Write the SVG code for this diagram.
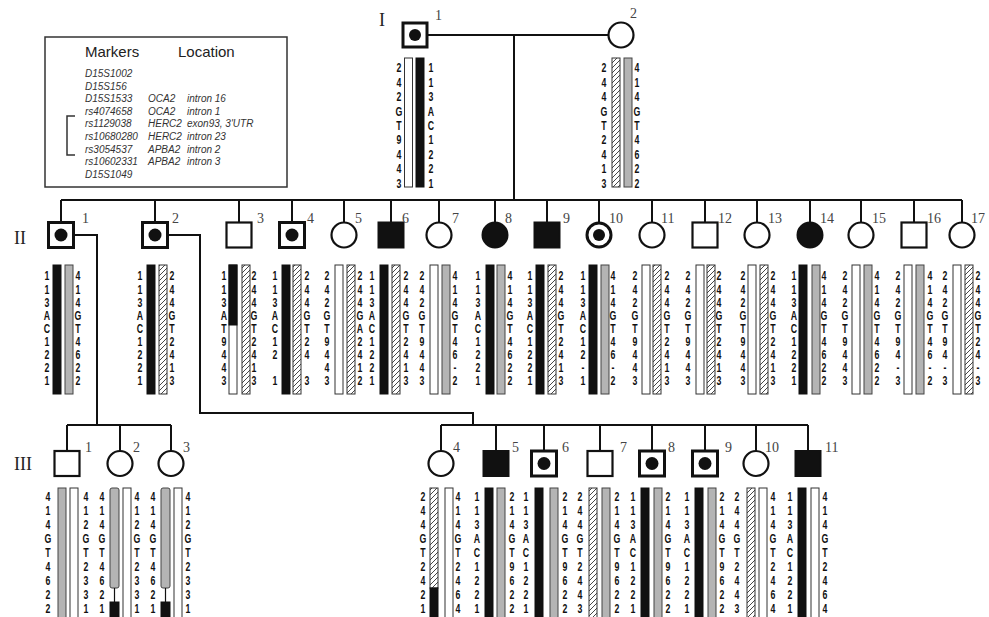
<svg xmlns="http://www.w3.org/2000/svg" width="989" height="617" viewBox="0 0 989 617">
<defs>
<pattern id="hatch" patternUnits="userSpaceOnUse" width="5" height="5">
<rect width="5" height="5" fill="#fff"/>
<path d="M0 5L5 0M-1 1L1 -1M4 6L6 4" stroke="#333" stroke-width="0.9"/>
</pattern>
<style>
.sym{fill:#fff;stroke:#111;stroke-width:2.2}
.symc{fill:#fff;stroke:#111;stroke-width:3}
.fill{fill:#111;stroke:#111;stroke-width:2}
.dot{fill:#111}
.w{fill:#fff;stroke:#333;stroke-width:1}
.b{fill:#111;stroke:#111;stroke-width:1}
.g{fill:#b4b4b4;stroke:#444;stroke-width:1}
.h{fill:url(#hatch);stroke:#333;stroke-width:1}
.n{font-family:"Liberation Sans",Arial,sans-serif;font-weight:bold;font-size:12.5px;text-anchor:middle;fill:#111}
.lb{font-family:"Liberation Serif","Times New Roman",serif;font-size:14px;fill:#444}
.gen{font-family:"Liberation Serif","Times New Roman",serif;font-size:18px;fill:#222}
.lh{font-family:"Liberation Sans",Arial,sans-serif;font-size:15px;fill:#222}
.li{font-family:"Liberation Sans",Arial,sans-serif;font-size:10px;font-style:italic;fill:#333}
.con{fill:none;stroke:#111;stroke-width:2}
</style>
</defs>
<rect width="989" height="617" fill="#fff"/>

<g id="legend">
<rect x="45" y="37" width="242" height="150" fill="#fff" stroke="#333" stroke-width="1.5"/>
<text class="lh" x="85" y="57">Markers</text>
<text class="lh" x="178" y="57">Location</text>
<text class="li" x="85" y="77">D15S1002</text>
<text class="li" x="85" y="89.6">D15S156</text>
<text class="li" x="85" y="102.2">D15S1533</text><text class="li" x="148" y="102.2">OCA2</text><text class="li" x="187" y="102.2">intron 16</text>
<text class="li" x="85" y="114.8">rs4074658</text><text class="li" x="148" y="114.8">OCA2</text><text class="li" x="187" y="114.8">intron 1</text>
<text class="li" x="85" y="127.4">rs1129038</text><text class="li" x="148" y="127.4">HERC2</text><text class="li" x="187" y="127.4">exon93, 3'UTR</text>
<text class="li" x="85" y="140">rs10680280</text><text class="li" x="148" y="140">HERC2</text><text class="li" x="187" y="140">intron 23</text>
<text class="li" x="85" y="152.6">rs3054537</text><text class="li" x="148" y="152.6">APBA2</text><text class="li" x="187" y="152.6">intron 2</text>
<text class="li" x="85" y="165.2">rs10602331</text><text class="li" x="148" y="165.2">APBA2</text><text class="li" x="187" y="165.2">intron 3</text>
<text class="li" x="85" y="177.8">D15S1049</text>
<path d="M75 116H67V155H75" fill="none" stroke="#333" stroke-width="1.5"/>
</g>

<g id="generation-labels">
<text class="gen" x="379" y="26">I</text>
<text class="gen" x="14" y="244">II</text>
<text class="gen" x="14" y="470">III</text>
</g>

<g id="connectors">
<path class="con" d="M427 35H608M514 35V200M61 200H962"/>
<path class="con" d="M61 200V222M155 200V222M239 200V222M292 200V222M344 200V222M391 200V222M439 200V222M495 200V222M547 200V222M599 200V222M652 200V222M705 200V222M757 200V222M810 200V222M861 200V222M914 200V222M962 200V222"/>
<path class="con" d="M74 235H97V425M67 425H171M67 425V451M120 425V451M171 425V451"/>
<path class="con" d="M168 235H200V413H473V425M441 425H808M441 425V451M496 425V451M544 425V451M600 425V451M652 425V451M705 425V451M756 425V451M808 425V451"/>
</g>

<g id="I-1">
<rect class="symc" x="403" y="23" width="24" height="24"/><circle class="dot" cx="415" cy="35" r="6"/>
<text class="lb" x="435" y="20">1</text>
<rect class="w" x="404.5" y="58" width="8" height="129"/><rect class="b" x="416" y="58" width="8" height="129"/>
<text class="n" transform="translate(399 0) scale(.7 1)" x="0 0 0 0 0 0 0 0 0" y="72.5 86.9 101.3 115.7 130.1 144.5 158.9 173.3 187.7">242GT9443</text>
<text class="n" transform="translate(431 0) scale(.7 1)" x="0 0 0 0 0 0 0 0 0" y="72.5 86.9 101.3 115.7 130.1 144.5 158.9 173.3 187.7">113AC1221</text>
</g>
<g id="I-2">
<circle class="sym" cx="621" cy="35" r="12.5"/>
<text class="lb" x="630" y="18">2</text>
<rect class="h" x="612" y="58" width="8" height="129"/><rect class="g" x="624" y="58" width="8" height="129"/>
<text class="n" transform="translate(604 0) scale(.7 1)" x="0 0 0 0 0 0 0 0 0" y="72.5 86.9 101.3 115.7 130.1 144.5 158.9 173.3 187.7">244GT2413</text>
<text class="n" transform="translate(637 0) scale(.7 1)" x="0 0 0 0 0 0 0 0 0" y="72.5 86.9 101.3 115.7 130.1 144.5 158.9 173.3 187.7">414GT4622</text>
</g>

<g id="II-1">
<rect class="symc" x="48.5" y="222.5" width="25" height="25"/><circle class="dot" cx="61" cy="235" r="6.5"/>
<text class="lb" x="82" y="223">1</text>
<rect class="b" x="53" y="265" width="8" height="129"/><rect class="g" x="65" y="265" width="8" height="129"/>
<text class="n" transform="translate(47 0) scale(.7 1)" x="0 0 0 0 0 0 0 0 0" y="280.5 293.6 306.7 319.8 332.9 346 359.1 372.2 385.3">113AC1221</text>
<text class="n" transform="translate(78 0) scale(.7 1)" x="0 0 0 0 0 0 0 0 0" y="280.5 293.6 306.7 319.8 332.9 346 359.1 372.2 385.3">414GT4622</text>
</g>
<g id="II-2">
<rect class="symc" x="142.5" y="222.5" width="25" height="25"/><circle class="dot" cx="155" cy="235" r="6.5"/>
<text class="lb" x="172" y="223">2</text>
<rect class="b" x="147" y="265" width="8" height="129"/><rect class="h" x="159" y="265" width="8" height="129"/>
<text class="n" transform="translate(140 0) scale(.7 1)" x="0 0 0 0 0 0 0 0 0" y="280.5 293.6 306.7 319.8 332.9 346 359.1 372.2 385.3">113AC1221</text>
<text class="n" transform="translate(172 0) scale(.7 1)" x="0 0 0 0 0 0 0 0 0" y="280.5 293.6 306.7 319.8 332.9 346 359.1 372.2 385.3">244GT2413</text>
</g>
<g id="II-3">
<rect class="sym" x="226.5" y="222.5" width="25" height="25"/>
<text class="lb" x="257" y="223">3</text>
<rect class="w" x="229" y="265" width="8" height="129"/><rect class="b" x="229" y="265" width="8" height="60"/><rect class="h" x="242" y="265" width="8" height="129"/>
<text class="n" transform="translate(224 0) scale(.7 1)" x="0 0 0 0 0 0 0 0 0" y="280.5 293.6 306.7 319.8 332.9 346 359.1 372.2 385.3">113AT9443</text>
<text class="n" transform="translate(254 0) scale(.7 1)" x="0 0 0 0 0 0 0 0 0" y="280.5 293.6 306.7 319.8 332.9 346 359.1 372.2 385.3">244GT2413</text>
</g>
<g id="II-4">
<rect class="symc" x="279.5" y="222.5" width="25" height="25"/><circle class="dot" cx="292" cy="235" r="6.5"/>
<text class="lb" x="307" y="223">4</text>
<rect class="b" x="282" y="265" width="8" height="129"/><rect class="h" x="293" y="265" width="8" height="129"/>
<text class="n" transform="translate(275 0) scale(.7 1)" x="0 0 0 0 0 0 0 0" y="280.5 293.6 306.7 319.8 332.9 346 359.1 385.3">113AC121</text>
<text class="n" transform="translate(307 0) scale(.7 1)" x="0 0 0 0 0 0 0 0" y="280.5 293.6 306.7 319.8 332.9 346 359.1 385.3">244GT243</text>
</g>
<g id="II-5">
<circle class="sym" cx="344" cy="235" r="12.5"/>
<text class="lb" x="355" y="223">5</text>
<rect class="w" x="335" y="265" width="8" height="129"/><rect class="h" x="347" y="265" width="8" height="129"/>
<text class="n" transform="translate(327 0) scale(.7 1)" x="0 0 0 0 0 0 0 0 0" y="280.5 293.6 306.7 319.8 332.9 346 359.1 372.2 385.3">242GT9443</text>
<text class="n" transform="translate(360 0) scale(.7 1)" x="0 0 0 0 0 0 0 0 0" y="280.5 293.6 306.7 319.8 332.9 346 359.1 372.2 385.3">244GA2412</text>
</g>
<g id="II-6">
<rect class="fill" x="378.5" y="222.5" width="25" height="25"/>
<text class="lb" x="402" y="223">6</text>
<rect class="b" x="380" y="265" width="8" height="129"/><rect class="h" x="392" y="265" width="8" height="129"/>
<text class="n" transform="translate(372 0) scale(.7 1)" x="0 0 0 0 0 0 0 0 0" y="280.5 293.6 306.7 319.8 332.9 346 359.1 372.2 385.3">113AC1221</text>
<text class="n" transform="translate(406 0) scale(.7 1)" x="0 0 0 0 0 0 0 0 0" y="280.5 293.6 306.7 319.8 332.9 346 359.1 372.2 385.3">244GT2413</text>
</g>
<g id="II-7">
<circle class="sym" cx="439" cy="235" r="12.5"/>
<text class="lb" x="452" y="223">7</text>
<rect class="w" x="430" y="265" width="8" height="129"/><rect class="g" x="442" y="265" width="8" height="129"/>
<text class="n" transform="translate(422 0) scale(.7 1)" x="0 0 0 0 0 0 0 0 0" y="280.5 293.6 306.7 319.8 332.9 346 359.1 372.2 385.3">242GT9443</text>
<text class="n" transform="translate(455 0) scale(.7 1)" x="0 0 0 0 0 0 0 0 0" y="280.5 293.6 306.7 319.8 332.9 346 359.1 372.2 385.3">414GT46-2</text>
</g>
<g id="II-8">
<circle class="fill" cx="495" cy="235" r="12.5"/>
<text class="lb" x="505" y="223">8</text>
<rect class="b" x="486" y="265" width="8" height="129"/><rect class="g" x="497" y="265" width="8" height="129"/>
<text class="n" transform="translate(478 0) scale(.7 1)" x="0 0 0 0 0 0 0 0 0" y="280.5 293.6 306.7 319.8 332.9 346 359.1 372.2 385.3">113AC1221</text>
<text class="n" transform="translate(510 0) scale(.7 1)" x="0 0 0 0 0 0 0 0 0" y="280.5 293.6 306.7 319.8 332.9 346 359.1 372.2 385.3">414GT4622</text>
</g>
<g id="II-9">
<rect class="fill" x="534.5" y="222.5" width="25" height="25"/>
<text class="lb" x="563" y="223">9</text>
<rect class="b" x="536" y="265" width="8" height="129"/><rect class="h" x="548" y="265" width="8" height="129"/>
<text class="n" transform="translate(530 0) scale(.7 1)" x="0 0 0 0 0 0 0 0 0" y="280.5 293.6 306.7 319.8 332.9 346 359.1 372.2 385.3">113AC1221</text>
<text class="n" transform="translate(561 0) scale(.7 1)" x="0 0 0 0 0 0 0 0 0" y="280.5 293.6 306.7 319.8 332.9 346 359.1 372.2 385.3">244GT2413</text>
</g>
<g id="II-10">
<circle class="symc" cx="599" cy="235" r="12"/><circle class="dot" cx="599" cy="235" r="6"/>
<text class="lb" x="609" y="223">10</text>
<rect class="b" x="589" y="265" width="8" height="129"/><rect class="g" x="601" y="265" width="8" height="129"/>
<text class="n" transform="translate(583 0) scale(.7 1)" x="0 0 0 0 0 0 0 0 0" y="280.5 293.6 306.7 319.8 332.9 346 359.1 372.2 385.3">113AC12-1</text>
<text class="n" transform="translate(613 0) scale(.7 1)" x="0 0 0 0 0 0 0 0 0" y="280.5 293.6 306.7 319.8 332.9 346 359.1 372.2 385.3">414GT46-2</text>
</g>
<g id="II-11">
<circle class="sym" cx="652" cy="235" r="12.5"/>
<text class="lb" x="661" y="223">11</text>
<rect class="w" x="642" y="265" width="8" height="129"/><rect class="h" x="653" y="265" width="8" height="129"/>
<text class="n" transform="translate(635 0) scale(.7 1)" x="0 0 0 0 0 0 0 0 0" y="280.5 293.6 306.7 319.8 332.9 346 359.1 372.2 385.3">242GT9443</text>
<text class="n" transform="translate(667 0) scale(.7 1)" x="0 0 0 0 0 0 0 0 0" y="280.5 293.6 306.7 319.8 332.9 346 359.1 372.2 385.3">244GT2413</text>
</g>
<g id="II-12">
<rect class="sym" x="692.5" y="222.5" width="25" height="25"/>
<text class="lb" x="718" y="223">12</text>
<rect class="w" x="696" y="265" width="8" height="129"/><rect class="h" x="707" y="265" width="8" height="129"/>
<text class="n" transform="translate(688 0) scale(.7 1)" x="0 0 0 0 0 0 0 0 0" y="280.5 293.6 306.7 319.8 332.9 346 359.1 372.2 385.3">242GT9443</text>
<text class="n" transform="translate(719 0) scale(.7 1)" x="0 0 0 0 0 0 0 0 0" y="280.5 293.6 306.7 319.8 332.9 346 359.1 372.2 385.3">244GT2413</text>
</g>
<g id="II-13">
<circle class="sym" cx="757" cy="235" r="12.5"/>
<text class="lb" x="768" y="223">13</text>
<rect class="w" x="748" y="265" width="8" height="129"/><rect class="h" x="760" y="265" width="8" height="129"/>
<text class="n" transform="translate(743 0) scale(.7 1)" x="0 0 0 0 0 0 0 0 0" y="280.5 293.6 306.7 319.8 332.9 346 359.1 372.2 385.3">242GT9443</text>
<text class="n" transform="translate(773 0) scale(.7 1)" x="0 0 0 0 0 0 0 0 0" y="280.5 293.6 306.7 319.8 332.9 346 359.1 372.2 385.3">244GT2413</text>
</g>
<g id="II-14">
<circle class="fill" cx="810" cy="235" r="12.5"/>
<text class="lb" x="820" y="223">14</text>
<rect class="b" x="799" y="265" width="8" height="129"/><rect class="g" x="812" y="265" width="8" height="129"/>
<text class="n" transform="translate(794 0) scale(.7 1)" x="0 0 0 0 0 0 0 0 0" y="280.5 293.6 306.7 319.8 332.9 346 359.1 372.2 385.3">113AC1221</text>
<text class="n" transform="translate(824 0) scale(.7 1)" x="0 0 0 0 0 0 0 0 0" y="280.5 293.6 306.7 319.8 332.9 346 359.1 372.2 385.3">414GT4622</text>
</g>
<g id="II-15">
<circle class="sym" cx="861" cy="235" r="12.5"/>
<text class="lb" x="872" y="223">15</text>
<rect class="w" x="852" y="265" width="8" height="129"/><rect class="g" x="864" y="265" width="8" height="129"/>
<text class="n" transform="translate(845 0) scale(.7 1)" x="0 0 0 0 0 0 0 0 0" y="280.5 293.6 306.7 319.8 332.9 346 359.1 372.2 385.3">242GT9443</text>
<text class="n" transform="translate(877 0) scale(.7 1)" x="0 0 0 0 0 0 0 0 0" y="280.5 293.6 306.7 319.8 332.9 346 359.1 372.2 385.3">414GT4622</text>
</g>
<g id="II-16">
<rect class="sym" x="901.5" y="222.5" width="25" height="25"/>
<text class="lb" x="927" y="223">16</text>
<rect class="w" x="904" y="265" width="8" height="129"/><rect class="g" x="916" y="265" width="8" height="129"/>
<text class="n" transform="translate(898 0) scale(.7 1)" x="0 0 0 0 0 0 0 0 0" y="280.5 293.6 306.7 319.8 332.9 346 359.1 372.2 385.3">242GT94-3</text>
<text class="n" transform="translate(930 0) scale(.7 1)" x="0 0 0 0 0 0 0 0 0" y="280.5 293.6 306.7 319.8 332.9 346 359.1 372.2 385.3">414GT46-2</text>
</g>
<g id="II-17">
<circle class="sym" cx="962" cy="235" r="12.5"/>
<text class="lb" x="971" y="223">17</text>
<rect class="w" x="953" y="265" width="8" height="129"/><rect class="h" x="965" y="265" width="8" height="129"/>
<text class="n" transform="translate(945 0) scale(.7 1)" x="0 0 0 0 0 0 0 0 0" y="280.5 293.6 306.7 319.8 332.9 346 359.1 372.2 385.3">242GT94-3</text>
<text class="n" transform="translate(978 0) scale(.7 1)" x="0 0 0 0 0 0 0 0 0" y="280.5 293.6 306.7 319.8 332.9 346 359.1 372.2 385.3">244GT24-3</text>
</g>

<g id="III-1">
<rect class="sym" x="54.5" y="451" width="25" height="25"/>
<text class="lb" x="85" y="452">1</text>
<rect class="g" x="58" y="488" width="8" height="135"/><rect class="w" x="70" y="488" width="8" height="135"/>
<text class="n" transform="translate(48 0) scale(.7 1)" x="0 0 0 0 0 0 0 0 0" y="501.5 515.4 529.3 543.2 557.1 571 584.9 598.8 612.7">414GT4622</text>
<text class="n" transform="translate(86 0) scale(.7 1)" x="0 0 0 0 0 0 0 0 0" y="501.5 515.4 529.3 543.2 557.1 571 584.9 598.8 612.7">412GT2331</text>
</g>
<g id="III-2">
<circle class="sym" cx="120" cy="463.5" r="12.5"/>
<text class="lb" x="133" y="452">2</text>
<rect class="g" x="110" y="488" width="9" height="100" rx="2"/><path d="M114.5 588V602" stroke="#111" stroke-width="1.2"/><rect class="b" x="110" y="602" width="9" height="20"/>
<rect class="w" x="123" y="488" width="8" height="135"/>
<text class="n" transform="translate(102 0) scale(.7 1)" x="0 0 0 0 0 0 0 0 0" y="501.5 515.4 529.3 543.2 557.1 571 584.9 598.8 612.7">414GT4621</text>
<text class="n" transform="translate(137 0) scale(.7 1)" x="0 0 0 0 0 0 0 0 0" y="501.5 515.4 529.3 543.2 557.1 571 584.9 598.8 612.7">412GT2331</text>
</g>
<g id="III-3">
<circle class="sym" cx="171" cy="463.5" r="12.5"/>
<text class="lb" x="183" y="452">3</text>
<rect class="g" x="161" y="488" width="9" height="100" rx="2"/><path d="M165.5 588V602" stroke="#111" stroke-width="1.2"/><rect class="b" x="161" y="602" width="9" height="20"/>
<rect class="w" x="174" y="488" width="8" height="135"/>
<text class="n" transform="translate(153 0) scale(.7 1)" x="0 0 0 0 0 0 0 0 0" y="501.5 515.4 529.3 543.2 557.1 571 584.9 598.8 612.7">414GT4621</text>
<text class="n" transform="translate(188 0) scale(.7 1)" x="0 0 0 0 0 0 0 0 0" y="501.5 515.4 529.3 543.2 557.1 571 584.9 598.8 612.7">412GT2331</text>
</g>
<g id="III-4">
<circle class="sym" cx="441" cy="463.5" r="12.5"/>
<text class="lb" x="453" y="452">4</text>
<rect class="h" x="430" y="488" width="8" height="100"/><rect class="b" x="430" y="588" width="8" height="35"/><rect class="w" x="445" y="488" width="8" height="135"/>
<text class="n" transform="translate(423 0) scale(.7 1)" x="0 0 0 0 0 0 0 0 0" y="501.5 515.4 529.3 543.2 557.1 571 584.9 598.8 612.7">244GT2421</text>
<text class="n" transform="translate(458 0) scale(.7 1)" x="0 0 0 0 0 0 0 0 0" y="501.5 515.4 529.3 543.2 557.1 571 584.9 598.8 612.7">414GT2464</text>
</g>
<g id="III-5">
<rect class="fill" x="483.5" y="451" width="25" height="25"/>
<text class="lb" x="512" y="452">5</text>
<rect class="b" x="485" y="488" width="8" height="135"/><rect class="g" x="497" y="488" width="8" height="135"/>
<text class="n" transform="translate(477 0) scale(.7 1)" x="0 0 0 0 0 0 0 0 0" y="501.5 515.4 529.3 543.2 557.1 571 584.9 598.8 612.7">113AC1221</text>
<text class="n" transform="translate(512 0) scale(.7 1)" x="0 0 0 0 0 0 0 0 0" y="501.5 515.4 529.3 543.2 557.1 571 584.9 598.8 612.7">214GT9622</text>
</g>
<g id="III-6">
<rect class="symc" x="531.5" y="451" width="25" height="25"/><circle class="dot" cx="544" cy="463.5" r="6.5"/>
<text class="lb" x="562" y="452">6</text>
<rect class="b" x="535" y="488" width="8" height="135"/><rect class="g" x="550" y="488" width="8" height="135"/>
<text class="n" transform="translate(526 0) scale(.7 1)" x="0 0 0 0 0 0 0 0 0" y="501.5 515.4 529.3 543.2 557.1 571 584.9 598.8 612.7">113AC1221</text>
<text class="n" transform="translate(565 0) scale(.7 1)" x="0 0 0 0 0 0 0 0 0" y="501.5 515.4 529.3 543.2 557.1 571 584.9 598.8 612.7">214GT9622</text>
</g>
<g id="III-7">
<rect class="sym" x="587.5" y="451" width="25" height="25"/>
<text class="lb" x="620" y="452">7</text>
<rect class="h" x="589" y="488" width="8" height="135"/><rect class="g" x="602" y="488" width="8" height="135"/>
<text class="n" transform="translate(580 0) scale(.7 1)" x="0 0 0 0 0 0 0 0 0" y="501.5 515.4 529.3 543.2 557.1 571 584.9 598.8 612.7">244GT2443</text>
<text class="n" transform="translate(617 0) scale(.7 1)" x="0 0 0 0 0 0 0 0 0" y="501.5 515.4 529.3 543.2 557.1 571 584.9 598.8 612.7">214GT9622</text>
</g>
<g id="III-8">
<rect class="symc" x="639.5" y="451" width="25" height="25"/><circle class="dot" cx="652" cy="463.5" r="6.5"/>
<text class="lb" x="668" y="452">8</text>
<rect class="b" x="641" y="488" width="8" height="135"/><rect class="g" x="654" y="488" width="8" height="135"/>
<text class="n" transform="translate(633 0) scale(.7 1)" x="0 0 0 0 0 0 0 0 0" y="501.5 515.4 529.3 543.2 557.1 571 584.9 598.8 612.7">113AC1221</text>
<text class="n" transform="translate(668 0) scale(.7 1)" x="0 0 0 0 0 0 0 0 0" y="501.5 515.4 529.3 543.2 557.1 571 584.9 598.8 612.7">214GT9622</text>
</g>
<g id="III-9">
<rect class="symc" x="692.5" y="451" width="25" height="25"/><circle class="dot" cx="705" cy="463.5" r="6.5"/>
<text class="lb" x="725" y="452">9</text>
<rect class="b" x="695" y="488" width="8" height="135"/><rect class="g" x="708" y="488" width="8" height="135"/>
<text class="n" transform="translate(687 0) scale(.7 1)" x="0 0 0 0 0 0 0 0 0" y="501.5 515.4 529.3 543.2 557.1 571 584.9 598.8 612.7">113AC1221</text>
<text class="n" transform="translate(722 0) scale(.7 1)" x="0 0 0 0 0 0 0 0 0" y="501.5 515.4 529.3 543.2 557.1 571 584.9 598.8 612.7">214GT9622</text>
</g>
<g id="III-10">
<circle class="sym" cx="756" cy="463.5" r="12.5"/>
<text class="lb" x="765" y="452">10</text>
<rect class="h" x="747" y="488" width="8" height="135"/><rect class="w" x="759" y="488" width="8" height="135"/>
<text class="n" transform="translate(737 0) scale(.7 1)" x="0 0 0 0 0 0 0 0 0" y="501.5 515.4 529.3 543.2 557.1 571 584.9 598.8 612.7">244GT2443</text>
<text class="n" transform="translate(773 0) scale(.7 1)" x="0 0 0 0 0 0 0 0 0" y="501.5 515.4 529.3 543.2 557.1 571 584.9 598.8 612.7">414GT2464</text>
</g>
<g id="III-11">
<rect class="fill" x="795.5" y="451" width="25" height="25"/>
<text class="lb" x="825" y="452">11</text>
<rect class="b" x="798" y="488" width="8" height="135"/><rect class="w" x="811" y="488" width="8" height="135"/>
<text class="n" transform="translate(790 0) scale(.7 1)" x="0 0 0 0 0 0 0 0 0" y="501.5 515.4 529.3 543.2 557.1 571 584.9 598.8 612.7">113AC1221</text>
<text class="n" transform="translate(825 0) scale(.7 1)" x="0 0 0 0 0 0 0 0 0" y="501.5 515.4 529.3 543.2 557.1 571 584.9 598.8 612.7">414GT2464</text>
</g>
</svg>
